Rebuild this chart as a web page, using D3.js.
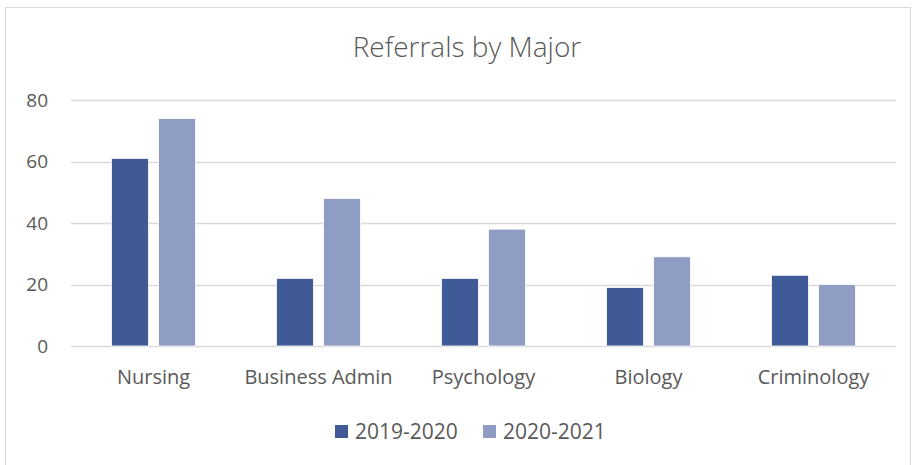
<!DOCTYPE html>
<html>
<head>
<meta charset="utf-8">
<script src="https://cdn.jsdelivr.net/npm/d3@7"></script>
<style>
  body { margin: 0; background: #fff; }
  svg text { font-family: "Open Sans", "Noto Sans", sans-serif; fill: #595959; }
</style>
</head>
<body>
<div id="chart"></div>
<script>
// data
var majors = ["Nursing", "Business Admin", "Psychology", "Biology", "Criminology"];
var seriesNames = ["2019-2020", "2020-2021"];
var values2019 = [61, 22, 22, 19, 23];
var values2020 = [74, 48, 38, 29, 20];
var yTicks = [0, 20, 40, 60, 80];
var colors = ["#3F5A97", "#8F9DC4"];

var W = 913, H = 465;
var margin = { top: 100, right: 17, bottom: 119, left: 71 };

var svg = d3.select("#chart").append("svg")
    .attr("width", W).attr("height", H);

// chart frame
svg.append("rect")
    .attr("x", 5.5).attr("y", 7.5)
    .attr("width", W - 8).attr("height", H - 6)
    .attr("fill", "none").attr("stroke", "#d9d9d9");

var x = d3.scaleBand().domain(majors)
    .range([margin.left, W - margin.right])
    .paddingInner(0.49).paddingOuter(0.245);
var xs = d3.scaleBand().domain(seriesNames)
    .range([0, x.bandwidth()]).paddingInner(0.213);
var y = d3.scaleLinear().domain([0, 80])
    .range([H - margin.bottom, margin.top]);

// gridlines
svg.append("g").selectAll("line")
    .data(yTicks).enter().append("line")
    .attr("x1", margin.left).attr("x2", W - margin.right)
    .attr("y1", function(d) { return Math.round(y(d)) + 0.5; })
    .attr("y2", function(d) { return Math.round(y(d)) + 0.5; })
    .attr("stroke", "#d9d9d9").attr("stroke-width", 1.3);

// y labels
svg.append("g").selectAll("text")
    .data(yTicks).enter().append("text")
    .attr("x", 48).attr("y", function(d) { return y(d); })
    .attr("dy", "0.35em")
    .attr("text-anchor", "end")
    .style("font-size", "19px")
    .text(function(d) { return d; });

// bars
var series = [values2019, values2020];
var groups = svg.append("g").selectAll("g")
    .data(seriesNames).enter().append("g")
    .attr("fill", function(d, i) { return colors[i]; });

groups.selectAll("rect")
    .data(function(d, i) {
        return majors.map(function(m, j) { return { major: m, s: d, v: series[i][j] }; });
    })
    .enter().append("rect")
    .attr("x", function(d) { return x(d.major) + xs(d.s); })
    .attr("width", xs.bandwidth())
    .attr("y", function(d) { return y(d.v); })
    .attr("height", function(d) { return y(0) - y(d.v); })
    .attr("stroke", "#fff").attr("stroke-width", 0.8);

// x labels
svg.append("g").selectAll("text")
    .data(majors).enter().append("text")
    .attr("x", function(d) { return x(d) + x.bandwidth() / 2; })
    .attr("y", 384)
    .attr("text-anchor", "middle")
    .style("font-size", "20px")
    .text(function(d) { return d; });

// title
svg.append("text")
    .attr("x", 467).attr("y", 57)
    .attr("text-anchor", "middle")
    .style("font-size", "28px")
    .style("font-weight", 300)
    .text("Referrals by Major");

// legend
var legendX = [335, 483];
var legend = svg.append("g").selectAll("g")
    .data(seriesNames).enter().append("g")
    .attr("transform", function(d, i) { return "translate(" + legendX[i] + ",425)"; });
legend.append("rect")
    .attr("width", 13).attr("height", 13)
    .attr("fill", function(d, i) { return colors[i]; });
legend.append("text")
    .attr("x", 20).attr("y", 7)
    .attr("dy", "0.35em")
    .style("font-size", "21px")
    .text(function(d) { return d; });
</script>
</body>
</html>
